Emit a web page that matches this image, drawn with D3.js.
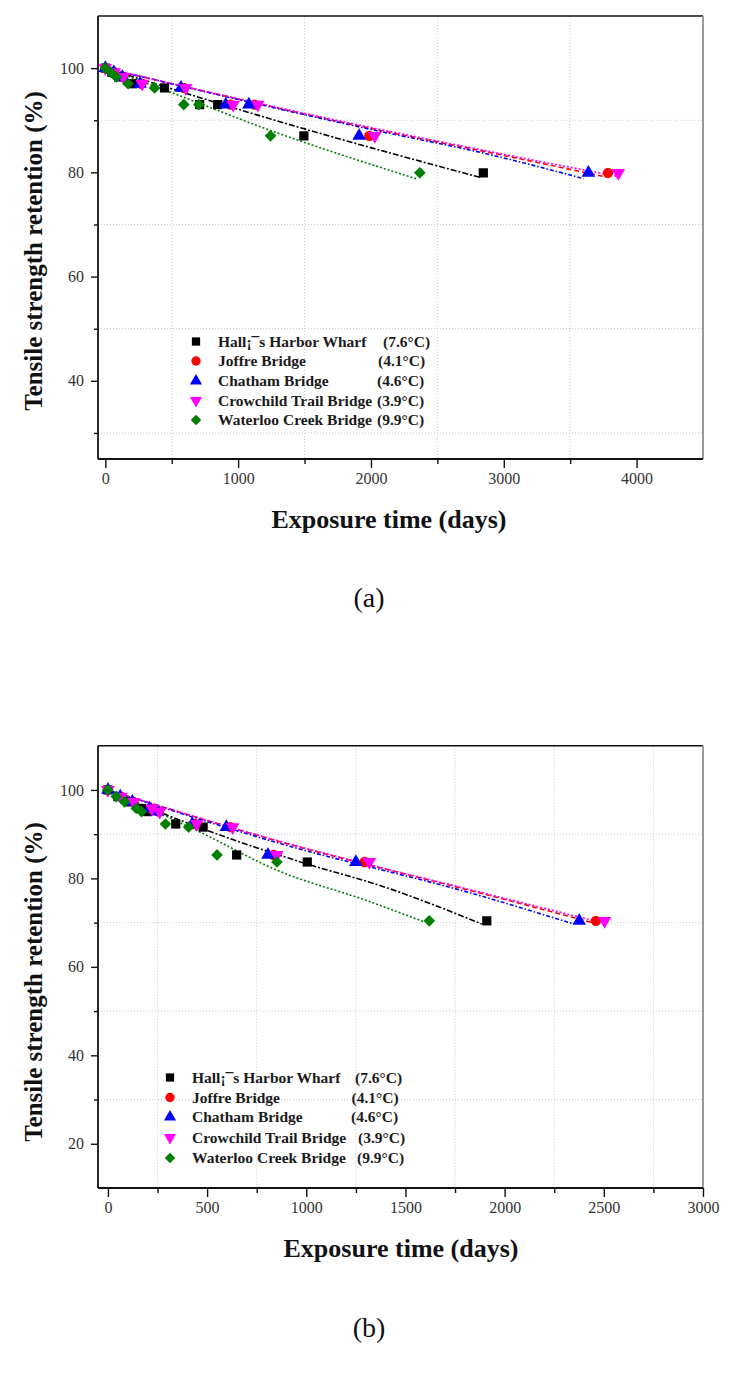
<!DOCTYPE html>
<html>
<head>
<meta charset="utf-8">
<script src="https://cdn.jsdelivr.net/npm/d3@7"></script>
<style>
  html, body { margin: 0; padding: 0; background: #fff; }
  svg { display: block; }
  text { font-family: "Liberation Serif", "Times New Roman", serif; }
</style>
</head>
<body>
<svg id="chart" width="739" height="1388"></svg>
<script>
// ---------- DATA ----------
const seriesNames = ["Hall¡¯s Harbor Wharf", "Joffre Bridge", "Chatham Bridge", "Crowchild Trail Bridge", "Waterloo Creek Bridge"];
const seriesTemps = ["(7.6°C)", "(4.1°C)", "(4.6°C)", "(3.9°C)", "(9.9°C)"];

// Panel (a)
const aRetention = [100, 99.2, 98.3, 97.0, 96.2, 93.0, 93.0, 87.0, 79.9];
const aHallsDays     = [0, 50, 100, 205, 446, 710, 846, 1495, 2846];
const aJoffreDays    = [0, 67, 133, 273, 593, 944, 1125, 1988, 3785];
const aChathamDays   = [0, 64, 128, 262, 570, 907, 1081, 1911, 3637];
const aCrowchildDays = [0, 68, 136, 278, 605, 963, 1148, 2029, 3862];
const aWaterlooDays  = [0, 42, 83, 171, 371, 591, 704, 1244, 2368];
// fitted curves (a): [days, retention]
const aHallsFit     = [[0, 100], [1491, 88.4], [2827, 79.0]];
const aJoffreFit    = [[0, 100], [1988, 88.5], [2914, 83.7], [3790, 79.0]];
const aChathamFit   = [[0, 100], [1988, 88.3], [2914, 83.3], [3600, 78.8]];
const aCrowchildFit = [[0, 100], [2000, 88.6], [2914, 83.9], [3862, 79.2]];
const aWaterlooFit  = [[0, 100], [458, 95.7], [1248, 88.0], [2350, 78.7]];
const aXTicks = [0, 1000, 2000, 3000, 4000];
const aXMinor = [500, 1500, 2500, 3500];
const aYTicks = [40, 60, 80, 100];
const aYMinor = [30, 50, 70, 90];
const aXDomain = [-55, 4500];
const aYDomain = [25, 110];

// Panel (b)
const bRetention = [100, 98.5, 97.3, 95.8, 95.1, 92.3, 91.6, 85.3, 83.7, 70.4];
const bHallsDays     = [0, 50, 99, 169, 199, 342, 480, 649, 1005, 1910];
const bJoffreDays    = [0, 64, 128, 218, 256, 440, 618, 836, 1294, 2460];
const bChathamDays   = [0, 62, 123, 210, 248, 425, 597, 807, 1250, 2376];
const bCrowchildDays = [0, 66, 130, 222, 261, 448, 629, 851, 1318, 2504];
const bWaterlooDays  = [0, 42, 84, 143, 169, 290, 407, 550, 852, 1620];
const bHallsFit     = [[0, 100], [277, 94.7], [1001, 83.3], [1371, 78.4], [1885, 69.7]];
const bJoffreFit    = [[0, 100], [867, 88.3], [1876, 76.7], [2460, 69.8]];
const bChathamFit   = [[0, 100], [867, 87.9], [1876, 76.1], [2347, 69.7]];
const bCrowchildFit = [[0, 100], [867, 88.4], [1876, 76.9], [2500, 69.9]];
const bWaterlooFit  = [[0, 100], [463, 90.5], [855, 81.8], [1304, 75.0], [1598, 70.1]];
const bXTicks = [0, 500, 1000, 1500, 2000, 2500, 3000];
const bXMinor = [250, 750, 1250, 1750, 2250, 2750];
const bYTicks = [20, 40, 60, 80, 100];
const bYMinor = [30, 50, 70, 90];
const bXDomain = [-50, 3000];
const bYDomain = [10, 110];

// ---------- STYLE ----------
const colors = ["#000000", "#ff0000", "#0000ff", "#ff00ff", "#008000"];
const dashes = ["6,2,2,2", "5,3", "4,2,1.5,2", "2,2", "2,2"];
const shapes = ["square", "circle", "triangle", "triangleDown", "diamond"];

const svg = d3.select("#chart");

function symbolPath(shape, scale) {
  const k = scale || 1;
  switch (shape) {
    case "square": return d3.symbol(d3.symbolSquare, 85 * k)();
    case "circle": return d3.symbol(d3.symbolCircle, 85 * k)();
    case "triangle": return d3.symbol(d3.symbolTriangle, 80 * k)();
    case "triangleDown": return d3.symbol(d3.symbolTriangle, 80 * k)();
    case "diamond": return d3.symbol(d3.symbolSquare, 68 * k)();
  }
}
function symbolTransform(shape, x, y) {
  if (shape === "triangleDown") return `translate(${x},${y}) rotate(180)`;
  if (shape === "diamond") return `translate(${x},${y}) rotate(45)`;
  return `translate(${x},${y})`;
}

function drawPanel(cfg) {
  const g = svg.append("g");
  const x = d3.scaleLinear().domain(cfg.xDomain).range([98, 703]);
  const y = d3.scaleLinear().domain(cfg.yDomain).range([cfg.bottom, cfg.top]);

  // grid (at minor tick positions)
  g.append("g").selectAll("line").data(cfg.xMinor).join("line")
    .attr("x1", d => x(d)).attr("x2", d => x(d))
    .attr("y1", cfg.top).attr("y2", cfg.bottom)
    .attr("stroke", "#c8c8c8").attr("stroke-width", 1).attr("stroke-dasharray", "1,2");
  g.append("g").selectAll("line").data(cfg.yMinor).join("line")
    .attr("x1", 98).attr("x2", 703)
    .attr("y1", d => y(d)).attr("y2", d => y(d))
    .attr("stroke", "#c8c8c8").attr("stroke-width", 1).attr("stroke-dasharray", "1,2");

  // frame: top black, right gray
  g.append("line").attr("x1", 98).attr("x2", 703).attr("y1", cfg.top).attr("y2", cfg.top)
    .attr("stroke", "#111").attr("stroke-width", 1.6);
  g.append("line").attr("x1", 703).attr("x2", 703).attr("y1", cfg.top).attr("y2", cfg.bottom)
    .attr("stroke", "#9a9a9a").attr("stroke-width", 2);

  // axes
  const xAxis = g.append("g").attr("transform", `translate(0,${cfg.bottom})`)
    .call(d3.axisBottom(x).tickValues(cfg.xTicks).tickSize(9).tickPadding(5).tickFormat(d3.format("d")));
  const xAxisMinor = g.append("g").attr("transform", `translate(0,${cfg.bottom})`)
    .call(d3.axisBottom(x).tickValues(cfg.xMinor).tickSize(5).tickFormat(""));
  const yAxis = g.append("g").attr("transform", `translate(98,0)`)
    .call(d3.axisLeft(y).tickValues(cfg.yTicks).tickSize(7).tickPadding(7).tickFormat(d3.format("d")));
  const yAxisMinor = g.append("g").attr("transform", `translate(98,0)`)
    .call(d3.axisLeft(y).tickValues(cfg.yMinor).tickSize(4).tickFormat(""));
  [xAxis, xAxisMinor, yAxis, yAxisMinor].forEach(a => {
    a.selectAll(".tick line").attr("stroke", "#111").attr("stroke-width", 1.4);
    a.selectAll(".tick text").attr("font-size", 16).attr("fill", "#333")
      .attr("font-family", "'Liberation Serif', serif");
  });
  xAxis.select(".domain").attr("d", `M98,0H703`).attr("stroke", "#111").attr("stroke-width", 1.8);
  xAxisMinor.select(".domain").remove();
  yAxis.select(".domain").attr("d", `M0,${cfg.top}V${cfg.bottom}`).attr("stroke", "#111").attr("stroke-width", 1.8);
  yAxisMinor.select(".domain").remove();

  // fitted lines
  const line = d3.line().x(d => x(d[0])).y(d => y(d[1])).curve(d3.curveMonotoneX);
  cfg.fits.forEach((f, i) => {
    g.append("path").datum(f).attr("d", line)
      .attr("fill", "none").attr("stroke", colors[i]).attr("stroke-width", 1.6)
      .attr("stroke-dasharray", dashes[i]);
  });

  // markers
  cfg.days.forEach((arr, i) => {
    const pts = arr.map((d, k) => [d, cfg.retention[k]]);
    g.append("g").selectAll("path").data(pts).join("path")
      .attr("d", symbolPath(shapes[i]))
      .attr("transform", d => symbolTransform(shapes[i], x(d[0]), y(d[1])))
      .attr("fill", colors[i]);
  });

  // legend
  const lg = g.append("g");
  seriesNames.forEach((name, i) => {
    const ry = cfg.legend.rows[i];
    lg.append("path").attr("d", symbolPath(shapes[i], 0.8))
      .attr("transform", symbolTransform(shapes[i], cfg.legend.sx, ry))
      .attr("fill", colors[i]);
    lg.append("text").attr("x", cfg.legend.tx).attr("y", ry).attr("dy", "0.35em")
      .attr("font-size", 15.5).attr("font-weight", "bold").attr("fill", "#1a1a1a")
      .text(name);
    lg.append("text").attr("x", cfg.legend.tempX[i]).attr("y", ry).attr("dy", "0.35em")
      .attr("font-size", 15.5).attr("font-weight", "bold").attr("fill", "#1a1a1a")
      .text(seriesTemps[i]);
  });

  // axis titles
  g.append("text").attr("x", cfg.xTitleX).attr("y", cfg.xTitleY).attr("text-anchor", "middle")
    .attr("font-size", 26).attr("font-weight", "bold").attr("fill", "#111")
    .text("Exposure time (days)");
  g.append("text").attr("transform", `translate(42,${cfg.yTitleY}) rotate(-90)`)
    .attr("text-anchor", "middle").attr("font-size", 25).attr("font-weight", "bold").attr("fill", "#111")
    .text("Tensile strength retention (%)");

  // panel label
  g.append("text").attr("x", 369).attr("y", cfg.labelY).attr("text-anchor", "middle")
    .attr("font-size", 28).attr("fill", "#111").text(cfg.label);
}

drawPanel({
  top: 16, bottom: 459,
  xDomain: aXDomain, yDomain: aYDomain,
  xTicks: aXTicks, xMinor: aXMinor, yTicks: aYTicks, yMinor: aYMinor,
  retention: aRetention,
  days: [aHallsDays, aJoffreDays, aChathamDays, aCrowchildDays, aWaterlooDays],
  fits: [aHallsFit, aJoffreFit, aChathamFit, aCrowchildFit, aWaterlooFit],
  legend: { sx: 196, tx: 218, rows: [341.5, 361, 381, 400.5, 420], tempX: [383, 378, 377, 377, 377] },
  xTitleX: 389, xTitleY: 528, yTitleY: 251,
  label: "(a)", labelY: 607
});

drawPanel({
  top: 745.7, bottom: 1188,
  xDomain: bXDomain, yDomain: bYDomain,
  xTicks: bXTicks, xMinor: bXMinor, yTicks: bYTicks, yMinor: bYMinor,
  retention: bRetention,
  days: [bHallsDays, bJoffreDays, bChathamDays, bCrowchildDays, bWaterlooDays],
  fits: [bHallsFit, bJoffreFit, bChathamFit, bCrowchildFit, bWaterlooFit],
  legend: { sx: 170, tx: 192, rows: [1077.5, 1097.5, 1117, 1137.5, 1158], tempX: [355, 351.5, 351, 358, 357] },
  xTitleX: 401, xTitleY: 1257, yTitleY: 982,
  label: "(b)", labelY: 1337
});
</script>
</body>
</html>
